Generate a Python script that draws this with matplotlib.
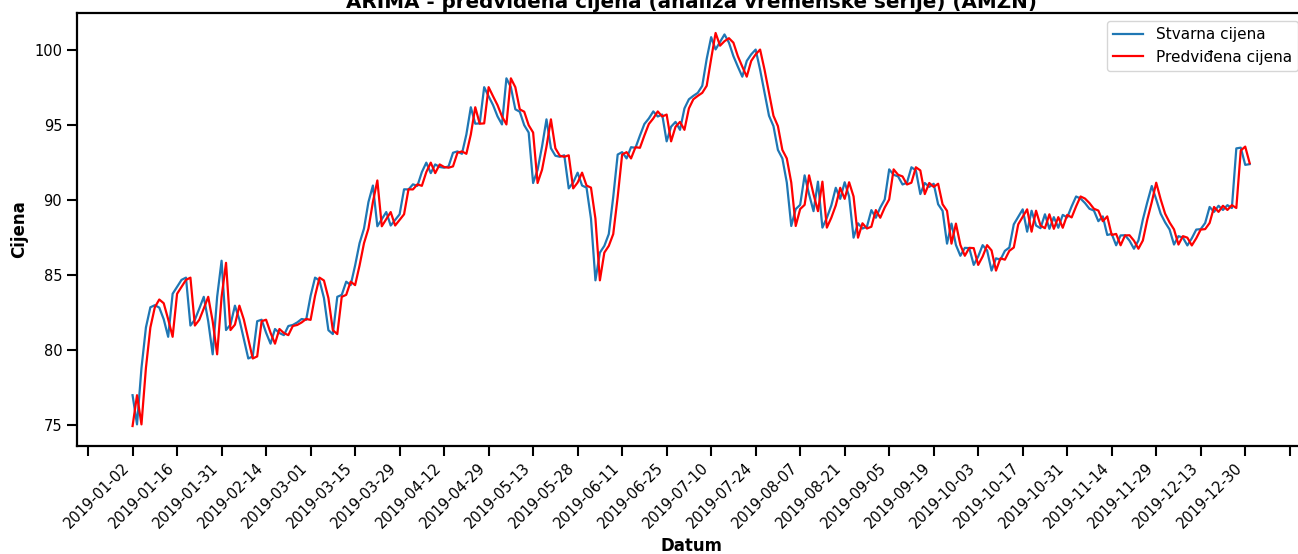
import numpy as np
import pandas as pd
import matplotlib
matplotlib.use("Agg")
import matplotlib.pyplot as plt
from matplotlib.ticker import MultipleLocator, FuncFormatter

# ---- data ----
holidays_2019 = ["2019-01-01", "2019-01-21", "2019-02-18", "2019-04-19", "2019-05-27",
                 "2019-07-04", "2019-09-02", "2019-11-28", "2019-12-25"]
dates = pd.bdate_range("2019-01-02", "2019-12-31", freq="C",
                       holidays=holidays_2019).strftime("%Y-%m-%d").tolist()

actual_price = [
    76.96, 75.01, 78.77, 81.48, 82.83, 82.97, 82.81, 82.03, 80.86, 83.73,
    84.19, 84.66, 84.81, 81.61, 82.00, 82.75, 83.53, 81.89, 79.69, 83.52,
    85.94, 81.31, 81.67, 82.94, 82.01, 80.72, 79.41, 79.55, 81.90, 82.00,
    81.13, 80.40, 81.38, 81.11, 80.97, 81.58, 81.65, 81.82, 82.05, 81.99,
    83.59, 84.81, 84.62, 83.45, 81.30, 81.04, 83.53, 83.66, 84.54, 84.31,
    85.62, 87.11, 88.09, 89.86, 90.96, 88.24, 88.71, 89.19, 88.29, 88.67,
    89.04, 90.71, 90.70, 91.04, 90.94, 91.86, 92.49, 91.79, 92.37, 92.20,
    92.15, 92.24, 93.15, 93.24, 93.08, 94.37, 96.19, 95.09, 95.11, 97.53,
    96.92, 96.33, 95.58, 95.04, 98.12, 97.53, 96.05, 95.89, 94.99, 94.50,
    91.13, 92.01, 93.56, 95.38, 93.45, 92.95, 92.88, 92.98, 90.77, 91.16,
    91.82, 90.96, 90.82, 88.75, 84.63, 86.48, 86.93, 87.72, 90.20, 93.03,
    93.19, 92.77, 93.52, 93.48, 94.30, 95.07, 95.44, 95.91, 95.57, 95.70,
    93.91, 94.89, 95.21, 94.68, 96.11, 96.72, 96.95, 97.15, 97.62, 99.42,
    100.87, 100.05, 100.55, 101.05, 100.50, 99.60, 98.90, 98.23, 99.28, 99.72,
    100.04, 98.69, 97.15, 95.62, 94.93, 93.34, 92.77, 91.16, 88.26, 89.39,
    89.67, 91.64, 90.38, 89.25, 91.22, 88.15, 88.81, 89.63, 90.81, 90.07,
    91.18, 90.23, 87.48, 88.44, 88.09, 88.21, 89.32, 88.81, 89.49, 90.03,
    92.04, 91.68, 91.57, 91.03, 91.15, 92.18, 91.97, 90.39, 91.13, 90.87,
    91.08, 89.71, 89.27, 87.08, 88.42, 86.99, 86.27, 86.80, 86.78, 85.66,
    86.22, 86.98, 86.63, 85.28, 86.10, 86.01, 86.60, 86.82, 88.37, 88.87,
    89.37, 87.88, 89.28, 88.29, 88.11, 89.04, 88.07, 88.85, 88.14, 89.00,
    88.83, 89.57, 90.23, 90.09, 89.79, 89.41, 89.29, 88.58, 88.90, 87.66,
    87.73, 86.97, 87.63, 87.64, 87.28, 86.74, 87.29, 88.69, 89.85, 90.93,
    90.04, 89.08, 88.50, 88.03, 87.02, 87.58, 87.48, 86.96, 87.44, 88.02,
    88.05, 88.46, 89.53, 89.20, 89.61, 89.33, 89.65, 89.46, 93.44, 93.49,
    92.34, 92.39]

predicted_price = [
    74.90, 76.96, 75.01, 78.77, 81.48, 82.83, 83.35, 83.10, 82.03, 80.86,
    83.73, 84.19, 84.66, 84.81, 81.61, 82.00, 82.75, 83.53, 81.89, 79.69,
    83.52, 85.80, 81.31, 81.67, 82.94, 82.01, 80.72, 79.41, 79.55, 81.90,
    82.00, 81.13, 80.40, 81.38, 81.11, 80.97, 81.58, 81.65, 81.82, 82.05,
    81.99, 83.59, 84.81, 84.62, 83.45, 81.30, 81.04, 83.53, 83.66, 84.54,
    84.31, 85.62, 87.11, 88.09, 89.86, 91.30, 88.24, 88.71, 89.19, 88.29,
    88.67, 89.04, 90.71, 90.70, 91.04, 90.94, 91.86, 92.49, 91.79, 92.37,
    92.20, 92.15, 92.24, 93.15, 93.24, 93.08, 94.37, 96.19, 95.09, 95.11,
    97.53, 96.92, 96.33, 95.58, 95.04, 98.12, 97.53, 96.05, 95.89, 94.99,
    94.50, 91.13, 92.01, 93.56, 95.38, 93.45, 92.95, 92.88, 92.98, 90.77,
    91.16, 91.82, 90.96, 90.82, 88.75, 84.63, 86.48, 86.93, 87.72, 90.20,
    93.03, 93.19, 92.77, 93.52, 93.48, 94.30, 95.07, 95.44, 95.91, 95.57,
    95.70, 93.91, 94.89, 95.21, 94.68, 96.11, 96.72, 96.95, 97.15, 97.62,
    99.42, 101.15, 100.30, 100.60, 100.80, 100.50, 99.60, 98.90, 98.23, 99.28,
    99.72, 100.04, 98.69, 97.15, 95.62, 94.93, 93.34, 92.77, 91.16, 88.26,
    89.39, 89.67, 91.64, 90.38, 89.25, 91.22, 88.15, 88.81, 89.63, 90.81,
    90.07, 91.18, 90.23, 87.48, 88.44, 88.09, 88.21, 89.32, 88.81, 89.49,
    90.03, 92.04, 91.68, 91.57, 91.03, 91.15, 92.18, 91.97, 90.39, 91.13,
    90.87, 91.08, 89.71, 89.27, 87.08, 88.42, 86.99, 86.27, 86.80, 86.78,
    85.66, 86.22, 86.98, 86.63, 85.28, 86.10, 86.01, 86.60, 86.82, 88.37,
    88.87, 89.37, 87.88, 89.28, 88.29, 88.11, 89.04, 88.07, 88.85, 88.14,
    89.00, 88.83, 89.57, 90.23, 90.09, 89.79, 89.41, 89.29, 88.58, 88.90,
    87.66, 87.73, 86.97, 87.63, 87.64, 87.28, 86.74, 87.29, 88.69, 89.85,
    91.15, 90.04, 89.08, 88.50, 88.03, 87.02, 87.58, 87.48, 86.96, 87.44,
    88.02, 88.05, 88.46, 89.53, 89.20, 89.61, 89.33, 89.65, 89.46, 93.30,
    93.56, 92.45]

series_labels = ["Stvarna cijena", "Predviđena cijena"]
title = "ARIMA - predviđena cijena (analiza vremenske serije) (AMZN)"
x_label = "Datum"
y_label = "Cijena"

n = min(len(dates), len(actual_price), len(predicted_price))
dates = dates[:n]

# ---- figure ----
plt.rcParams["font.family"] = ["DejaVu Sans"]
fig = plt.figure(figsize=(12.98, 5.54), dpi=100)
ax = fig.add_axes([0.0591, 0.1955, 0.9467, 0.7805])

x = np.arange(n)
ax.plot(x, actual_price[:n], color="#1f77b4", lw=1.6, label=series_labels[0], zorder=2)
ax.plot(x, predicted_price[:n], color="red", lw=1.6, label=series_labels[1], zorder=3)

ax.xaxis.set_major_locator(MultipleLocator(10))
ax.xaxis.set_major_formatter(FuncFormatter(
    lambda v, p: dates[int(round(v))] if 0 <= int(round(v)) < n else ""))
ax.yaxis.set_major_locator(MultipleLocator(5))

ax.tick_params(axis="both", labelsize=10.5, length=7, width=1.5, colors="black")
ax.tick_params(axis="x", labelrotation=45)
for lbl in ax.get_xticklabels():
    lbl.set_horizontalalignment("right")

for s in ax.spines.values():
    s.set_linewidth(1.6)
    s.set_color("black")

ax.set_xlabel(x_label, fontsize=12, fontweight="bold", labelpad=4)
ax.set_ylabel(y_label, fontsize=12, fontweight="bold", labelpad=4.5)
ax.set_title(title, fontsize=14.3, fontweight="bold", pad=4)

ax.legend(loc="upper right", fontsize=11)

fig.savefig("out.png", dpi=100)
